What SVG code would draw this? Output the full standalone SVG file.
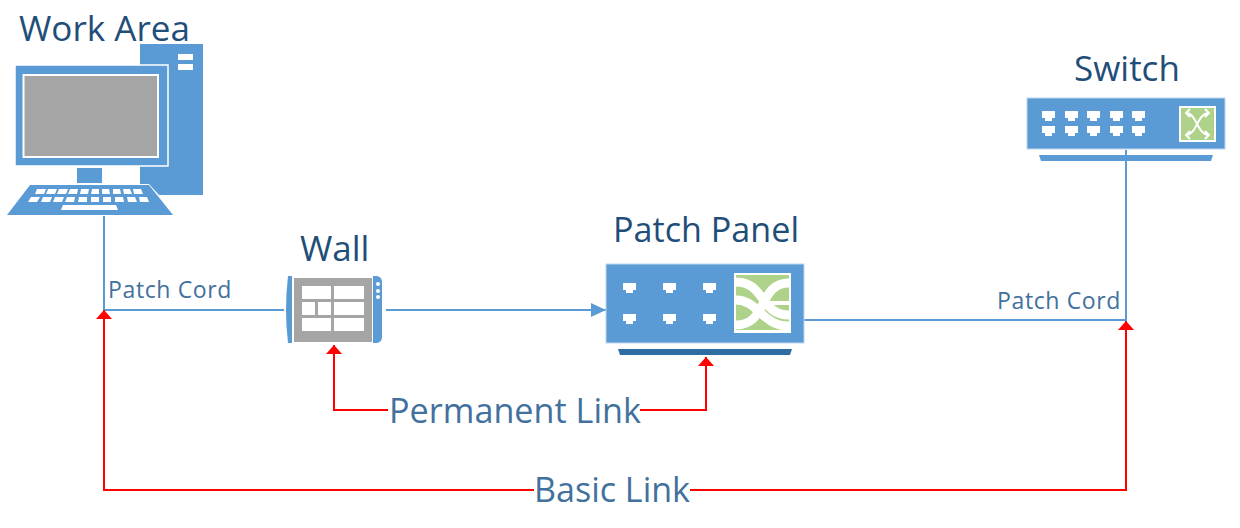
<svg xmlns="http://www.w3.org/2000/svg" width="1240" height="528" viewBox="0 0 1240 528">
<style>
text{font-family:"Open Sans","Noto Sans",sans-serif}
.t{font-size:35px;fill:#1f4e79}
.b{font-size:35px;fill:#41719c}
.s{font-size:23px;fill:#41719c;letter-spacing:.6px}
.i{fill:#5b9bd5}
.w{fill:#fff}
.g{fill:#a5a5a5}
.v{fill:#aed289}
.c{fill:none;stroke:#5b9bd5;stroke-width:2}
.r{fill:none;stroke:#f00;stroke-width:2}
.o{stroke:#bdd7ee;stroke-width:1}
</style>
<defs>
<marker id="ab" markerUnits="userSpaceOnUse" markerWidth="16" markerHeight="14" refX="15" refY="7" orient="auto"><path d="M0 0L15 7L0 14Z" fill="#5b9bd5"/></marker>
<marker id="ar" markerUnits="userSpaceOnUse" markerWidth="10" markerHeight="16" refX="9" refY="8" orient="auto"><path d="M0 0L9 8L0 16Z" fill="#f00"/></marker>
<path id="port" d="M0 0h13v7h-3v3h-7v-3h-3z" fill="#fff"/>
</defs>
<g id="connectors">
<path class="c" d="M104 216V310H284"/>
<path class="c" d="M386 310H606" marker-end="url(#ab)"/>
<path class="c" d="M804 320H1126V150"/>
<path class="r" d="M388 410H334V345" marker-end="url(#ar)"/>
<path class="r" d="M640 410H706V357" marker-end="url(#ar)"/>
<path class="r" d="M534 490H104V310" marker-end="url(#ar)"/>
<path class="r" d="M690 490H1126V321" marker-end="url(#ar)"/>
</g>
<g id="work-area">
<path class="i" d="M140 44H203V195H159L149 184H140Z"/>
<rect class="w" x="178" y="54" width="15" height="6"/>
<rect class="w" x="178" y="64" width="15" height="6"/>
<rect class="i" x="15" y="65" width="153" height="101" stroke="#fff" stroke-width="1.500"/>
<rect class="g" x="23.500" y="75" width="134.500" height="82" stroke="#fff" stroke-width="2"/>
<rect class="i" x="77" y="168" width="25" height="15"/>
<path class="i" d="M30 185H149L173 215H7Z"/>
<g class="w"><path d="M37 189h9l-2 5h-9zM48 189h9l-2 5h-9zM59 189h9l-2 5h-9zM70 189h8l-1 5h-9zM81 189h8l-1 5h-8zM92 189h7v5h-8zM102 189h7l1 5h-8zM113 189h7l1 5h-8zM123 189h7l2 5h-8zM133 189h8l2 5h-9z"/><path d="M31 197h9l-3 5h-9zM43 197h9l-2 5h-9zM55 197h9l-2 5h-9zM67 197h8l-1 5h-9zM79 197h8v5h-9zM91 197h8v5h-8zM103 197h8v5h-8zM115 197h8l1 5h-9zM127 197h8l2 5h-9zM139 197h8l2 5h-9z"/><path d="M63 205h53l2 5H61z"/></g>
<text class="t" x="19" y="41" textLength="171" lengthAdjust="spacingAndGlyphs">Work Area</text>
</g>
<g id="wall">
<path class="i" d="M288 276h4v67h-4q-4-33 0-67zM373 276h4q5 1 5 6v55q0 5-5 6h-4z"/>
<circle class="w" cx="378" cy="284" r="2"/><circle class="w" cx="378" cy="291" r="2"/><circle class="w" cx="378" cy="297" r="2"/>
<rect class="g" x="294" y="278" width="78" height="64"/>
<g class="w"><rect x="302" y="286" width="29" height="13"/><rect x="334" y="286" width="30" height="13"/><rect x="302" y="302" width="13" height="13"/><rect x="318" y="302" width="13" height="13"/><rect x="334" y="302" width="30" height="13"/><rect x="302" y="318" width="29" height="13"/><rect x="334" y="318" width="30" height="13"/></g>
<text class="t" x="300" y="261">Wall</text>
</g>
<g id="patch-panel">
<rect class="i o" x="606" y="264" width="198" height="79"/>
<path fill="#2e6ca4" d="M618 349H792L790 355H620Z"/>
<use href="#port" x="623" y="283"/><use href="#port" x="663" y="283"/><use href="#port" x="703" y="283"/>
<use href="#port" x="623" y="314"/><use href="#port" x="663" y="314"/><use href="#port" x="703" y="314"/>
<rect class="w" x="734" y="273" width="57" height="60"/>
<rect class="v" x="736" y="275" width="53" height="55"/>
<path fill="none" stroke="#fff" stroke-width="9" d="M736 282C765 282 760 315 789 315"/>
<path fill="none" stroke="#fff" stroke-width="9" d="M736 300C758 300 762 326 789 326"/>
<path fill="none" stroke="#fff" stroke-width="9" d="M736 325C768 325 758 283 789 283"/>
<path fill="none" stroke="#fff" stroke-width="4" d="M768 303H789"/>
<text class="t" x="613" y="242" textLength="186" lengthAdjust="spacingAndGlyphs">Patch Panel</text>
</g>
<g id="switch">
<rect class="i o" x="1027" y="98" width="198" height="51"/>
<path class="i" d="M1039 155H1213L1211 161H1041Z"/>
<use href="#port" x="1042" y="111"/><use href="#port" x="1065" y="111"/><use href="#port" x="1087" y="111"/><use href="#port" x="1110" y="111"/><use href="#port" x="1132" y="111"/>
<use href="#port" x="1042" y="126"/><use href="#port" x="1065" y="126"/><use href="#port" x="1087" y="126"/><use href="#port" x="1110" y="126"/><use href="#port" x="1132" y="126"/>
<rect class="v" x="1180" y="107" width="35" height="34" stroke="#fff" stroke-width="2"/>
<path fill="none" stroke="#fff" stroke-width="2" d="M1186 113c11 0 11 22 23 22M1186 135c11 0 11-22 23-22M1190 109l-4 4 4 4M1205 109l4 4-4 4M1190 131l-4 4 4 4M1205 131l4 4-4 4"/>
<text class="t" x="1074" y="81">Switch</text>
</g>
<g id="labels">
<text class="s" x="108" y="298" textLength="124" lengthAdjust="spacingAndGlyphs">Patch Cord</text>
<text class="s" x="997" y="309" textLength="124" lengthAdjust="spacingAndGlyphs">Patch Cord</text>
<text class="b" x="389" y="423" textLength="252" lengthAdjust="spacingAndGlyphs">Permanent Link</text>
<text class="b" x="534" y="502" textLength="156" lengthAdjust="spacingAndGlyphs">Basic Link</text>
</g>
</svg>
